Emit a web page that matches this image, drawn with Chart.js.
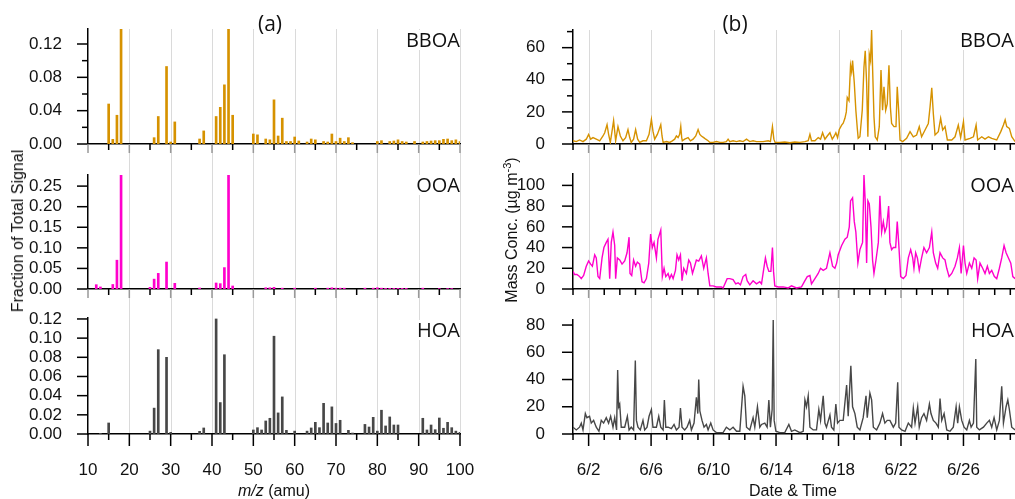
<!DOCTYPE html>
<html>
<head>
<meta charset="utf-8">
<script src="https://cdn.jsdelivr.net/npm/chart.js@4.4.1/dist/chart.umd.min.js"></script>
<style>
  body { margin: 0; background: #fff; }
  #page { position: relative; width: 1015px; height: 499px; overflow: hidden; font-family: "Liberation Sans", Arial, sans-serif; color: #111; }
  #page canvas { position: absolute; }
  .tag { position: absolute; font-family: "Open Sans", sans-serif; font-size: 20px; line-height: 20px; background: #fff; padding-left: 3px; white-space: nowrap; }
  .head { position: absolute; font-family: "Open Sans", sans-serif; font-size: 21px; line-height: 21px; transform: translateX(-50%); }
  .title { position: absolute; font-size: 16px; white-space: nowrap; transform: translate(-50%, -50%); }
  .vtitle { transform: translate(-50%, -50%) rotate(-90deg); }
</style>
</head>
<body>
<div id="page">
  <canvas id="specB" width="480" height="160" style="left:0;top:0"></canvas>
  <canvas id="specO" width="480" height="144" style="left:0;top:160px"></canvas>
  <canvas id="specH" width="480" height="195" style="left:0;top:304px"></canvas>
  <canvas id="tsB" width="535" height="160" style="left:480px;top:0"></canvas>
  <canvas id="tsO" width="535" height="144" style="left:480px;top:160px"></canvas>
  <canvas id="tsH" width="535" height="195" style="left:480px;top:304px"></canvas>

  <div class="head" style="left:270px;top:13px">(a)</div>
  <div class="head" style="left:735px;top:13px">(b)</div>

  <div class="tag" style="right:555px;top:30px">BBOA</div>
  <div class="tag" style="right:555px;top:175px">OOA</div>
  <div class="tag" style="right:555px;top:320px">HOA</div>
  <div class="tag" style="right:1px;top:30px">BBOA</div>
  <div class="tag" style="right:1px;top:175px">OOA</div>
  <div class="tag" style="right:1px;top:320px">HOA</div>

  <div class="title vtitle" style="left:18px;top:231px">Fraction of Total Signal</div>
  <div class="title vtitle" style="left:511px;top:230px">Mass Conc. (µg m<sup style="font-size:11px">-3</sup>)</div>
  <div class="title" style="left:274px;top:491px"><i>m/z</i> (amu)</div>
  <div class="title" style="left:793px;top:491px">Date &amp; Time</div>
</div>

<script>
// ---- (a) factor mass spectra: m/z and fraction of total signal ----
const bboaMz = [15,16,17,18,26,27,29,30,31,37,38,41,42,43,44,45,50,51,53,54,55,56,57,58,59,60,61,63,64,65,67,68,69,70,71,72,73,74,80,81,83,84,85,86,87,89,91,92,93,94,95,96,97,98,99,100];
const bboaFrac = [0.048,0.0056,0.0345,0.138,0.0076,0.033,0.093,0.0024,0.0265,0.006,0.0157,0.033,0.044,0.071,0.138,0.0345,0.012,0.011,0.006,0.005,0.053,0.0096,0.031,0.003,0.003,0.0084,0.0036,0.0024,0.006,0.005,0.003,0.0024,0.012,0.003,0.007,0.003,0.0076,0.0016,0.003,0.004,0.003,0.0036,0.005,0.003,0.0024,0.003,0.0024,0.003,0.0036,0.004,0.004,0.0056,0.006,0.004,0.005,0.003];

const ooaMz = [12,13,16,17,18,25,26,27,29,31,37,41,42,43,44,45,53,54,55,57,60,65,68,69,70,71,72,77,79,80,81,82,83,84,85,86,87,91,95,97,98];
const ooaFrac = [0.0105,0.005,0.011,0.070,0.278,0.004,0.024,0.038,0.0655,0.0138,0.0024,0.0146,0.013,0.052,0.278,0.0073,0.003,0.003,0.004,0.002,0.002,0.002,0.002,0.003,0.002,0.002,0.002,0.002,0.002,0.003,0.002,0.0015,0.0015,0.0015,0.0015,0.0015,0.0015,0.002,0.001,0.001,0.001];

const hoaMz = [13,15,25,26,27,29,30,37,38,41,42,43,50,51,52,53,54,55,56,57,58,60,63,64,65,66,67,68,69,70,71,73,74,77,78,79,80,81,82,83,84,85,91,92,93,94,95,96,97,98,99,100];
const hoaFrac = [0.0007,0.0115,0.003,0.027,0.088,0.080,0.0017,0.0028,0.0063,0.120,0.0328,0.0827,0.0042,0.0066,0.0042,0.0136,0.0164,0.102,0.022,0.0387,0.0038,0.003,0.003,0.0063,0.0122,0.0066,0.032,0.0115,0.0283,0.011,0.0143,0.0038,0.001,0.010,0.0073,0.0174,0.003,0.0248,0.0084,0.0178,0.0094,0.0094,0.0164,0.0042,0.0094,0.0045,0.0167,0.006,0.0122,0.0066,0.003,0.0017];

// ---- (b) factor time series: day of June and mass concentration ----
const bboaDay = [1.00,1.21,1.42,1.64,1.85,2.00,2.13,2.28,2.49,2.71,2.92,3.03,3.18,3.28,3.39,3.50,3.60,3.73,3.88,4.03,4.20,4.37,4.52,4.63,4.73,4.88,5.01,5.14,5.27,5.48,5.70,5.87,6.02,6.12,6.23,6.40,6.55,6.62,6.70,6.77,6.98,7.19,7.36,7.51,7.62,7.73,7.83,7.90,7.96,8.00,8.15,8.37,8.52,8.69,8.86,9.01,9.12,9.22,9.37,9.50,9.65,9.76,9.97,10.18,10.40,10.61,10.82,10.93,11.04,11.25,11.47,11.68,11.89,12.11,12.32,12.53,12.75,12.96,
  13.17,13.50,13.64,13.77,13.86,13.94,14.24,14.56,14.88,15.20,15.53,15.85,16.06,16.17,16.27,16.49,16.70,16.85,16.98,17.13,17.28,17.45,17.60,17.73,17.83,17.94,18.05,18.20,18.30,18.41,18.50,18.56,18.67,18.77,18.84,18.90,19.01,19.11,19.20,19.26,19.37,19.52,19.63,19.71,19.80,19.88,19.97,20.05,20.12,20.18,20.27,20.35,20.48,20.61,20.72,20.82,20.91,21.02,21.12,21.23,21.32,21.40,21.55,21.68,21.76,21.85,21.94,22.11,22.36,22.58,22.79,23.00,23.17,23.32,23.54,23.75,23.86,23.97,24.07,24.18,24.39,24.54,24.67,24.82,24.97,25.25,25.46,25.67,25.82,26.00,26.10,26.42,26.64,26.81,26.91,27.17,27.38,27.60,27.81,28.13,28.39,28.56,28.67,28.77,28.94,29.09,29.31];
const bboaConc = [2,1.5,2.5,1.5,3,6,3,4,3,2,5,7,12,6,1,8,14.5,2,10.8,5,2,4,9,4,1,3,9,3,1,2,2,6,15.3,8,3,6,10,12,5,1,1.5,1,2,3,5,4,6,11,4,2,3,4,2,3,5,9,6,5,4,3,2,1,1,1.5,1,1,1.5,3,1.5,2,1.5,2,1.5,3,1.5,2,1.5,1.5,
  1.5,2,1.5,10.8,3,1,1,1.2,0.8,1.2,1,1.5,2,6,2,2,4,3,7,3,5,7,3,5,7,4,9,11.8,13,16,20,29,27,49,45,52,38,21,10,3.5,4.5,21,48,58,38,4.5,56,52,71,48,17,4.5,2.5,10.8,46,21,35.6,21,25,49,23,12.8,10.8,10.8,35.6,21,2.5,1.5,3.5,7.7,4.5,5.6,10.8,4.5,8.7,12.8,23,35,19,5.6,7.7,16,8.7,10.8,2.5,2.5,4.5,11.8,4,13.9,2.5,3.5,4.5,11.8,2.5,4.5,3,4.5,3.5,2.5,7.7,11.8,15,10.8,9.7,4.5,1.5];

const ooaDay = [1.00,1.10,1.25,1.42,1.53,1.68,1.85,2.00,2.13,2.24,2.39,2.49,2.60,2.71,2.86,2.98,3.13,3.24,3.35,3.45,3.56,3.67,3.73,3.84,3.99,4.14,4.31,4.46,4.59,4.65,4.76,4.88,5.01,5.12,5.27,5.42,5.55,5.70,5.85,5.97,6.08,6.19,6.34,6.44,6.62,6.72,6.83,6.94,7.09,7.19,7.30,7.41,7.56,7.66,7.77,7.88,7.98,8.09,8.26,8.41,8.52,8.65,8.75,8.90,9.05,9.22,9.37,9.54,9.65,9.76,9.97,10.18,10.50,10.61,10.87,11.04,11.25,11.42,11.57,11.72,11.89,12.06,12.15,12.32,12.53,12.75,12.96,
  13.07,13.17,13.32,13.43,13.54,13.67,13.77,13.84,13.92,14.14,14.46,14.78,14.99,15.31,15.63,15.85,16.00,16.17,16.27,16.49,16.70,16.85,17.02,17.23,17.45,17.62,17.77,17.88,17.98,18.20,18.41,18.56,18.69,18.77,18.90,19.01,19.11,19.24,19.37,19.54,19.63,19.71,19.80,19.88,19.97,20.08,20.18,20.27,20.40,20.55,20.65,20.76,20.87,20.97,21.08,21.21,21.29,21.40,21.51,21.66,21.76,21.85,21.98,22.15,22.32,22.47,22.62,22.75,22.83,22.94,23.05,23.17,23.32,23.47,23.64,23.82,23.97,24.07,24.22,24.35,24.50,24.67,24.82,24.93,25.08,25.25,25.46,25.61,25.74,25.85,26.00,26.10,26.21,26.38,26.53,26.68,26.81,26.91,27.06,27.23,27.38,27.53,27.66,27.81,27.98,28.13,28.30,28.45,28.60,28.73,28.88,29.03,29.16,29.31];
const ooaConc = [17,14,14,12,10,13,22,27,24,22,33,30,12,10,30,40,45,48,10,45,55,42,10,30,28,24,27,35,50,15,13,28,22,26,24,7,6,10,25,53,40,45,30,48,57,12,20,12,15,10,14,10,18,33,28,33,8,20,15,28,25,15,20,28,27,32,20,30,15,3,3,2,2,1,10,10,9,5,6,4,12,14,8,4,8,5,7,
  5,15,30,22,17,17,40,17,3,2,2,1,3,1,2,8,12,13,5,10,15,20,18,20,35,22,20,25,33,42,48,50,60,85,88,65,55,25,38,45,110,85,25,85,82,60,28,15,28,45,90,55,65,55,60,80,45,38,40,40,65,45,12,10,13,30,38,30,20,35,30,18,30,40,35,40,55,35,25,20,35,30,28,20,12,15,22,30,40,15,42,25,15,25,20,30,28,10,25,20,15,22,15,18,12,10,20,30,42,35,30,25,12,10];

const hoaDay = [1.00,1.21,1.42,1.53,1.64,1.79,1.89,2.06,2.17,2.32,2.49,2.66,2.81,2.96,3.13,3.28,3.41,3.56,3.67,3.79,3.86,3.92,3.99,4.09,4.31,4.48,4.59,4.73,4.88,4.99,5.06,5.16,5.31,5.48,5.59,5.74,5.87,6.02,6.12,6.34,6.49,6.62,6.77,6.85,6.94,7.09,7.30,7.47,7.62,7.79,7.88,7.98,8.15,8.30,8.47,8.58,8.75,8.90,8.99,9.05,9.12,9.26,9.39,9.54,9.65,9.82,9.97,10.18,10.61,10.82,11.04,11.25,11.47,11.68,11.89,12.00,12.11,12.32,12.53,12.64,12.81,12.96,
  13.07,13.28,13.43,13.54,13.64,13.75,13.82,13.88,13.99,14.24,14.56,14.82,14.99,15.20,15.53,15.74,15.85,15.95,16.06,16.17,16.38,16.59,16.74,16.85,17.02,17.13,17.23,17.45,17.55,17.70,17.83,17.94,18.09,18.30,18.52,18.62,18.79,18.90,19.05,19.20,19.37,19.58,19.76,19.84,20.01,20.12,20.23,20.44,20.65,20.82,20.97,21.12,21.29,21.51,21.66,21.79,21.87,22.04,22.26,22.47,22.68,22.79,22.90,23.07,23.17,23.32,23.47,23.64,23.82,23.92,24.07,24.24,24.39,24.50,24.61,24.76,24.93,25.14,25.35,25.53,25.63,25.74,25.89,26.04,26.21,26.38,26.49,26.64,26.79,26.85,27.02,27.28,27.49,27.66,27.81,27.96,28.13,28.30,28.45,28.56,28.73,28.84,28.94,29.09,29.31];
const hoaConc = [5,3,5,8,3,15,12,13,8,10,5,2,10,8,12,8,13,5,12,3,47,20,22,5,5,13,3,5,3,54,10,5,3,10,3,5,13,18,5,5,13,5,3,25,5,5,4,7,3,5,19,5,3,5,10,3,8,27,15,40,17,10,5,7,3,8,3,1,1,5,3,5,2,2,35,28,5,3,12,5,20,5,
  7,8,5,25,5,18,84,10,2,1,1,7,2,3,1,2,25,20,28,5,3,3,18,10,28,8,5,14,5,3,22,8,10,10,36,13,50,20,15,5,3,12,28,12,30,25,5,3,8,15,8,10,10,5,8,38,5,3,2,8,5,19,8,20,5,12,15,10,22,15,10,8,5,26,10,15,3,2,5,20,8,20,10,5,3,10,5,8,55,5,3,5,8,10,5,12,3,10,35,8,20,25,18,5,3];

// ---- tick values ----
const mzMajor = [10,20,30,40,50,60,70,80,90,100];
const mzMinor = [15,25,35,45,55,65,75,85,95];
const mzGrid = [20,30,40,50,60,70,80,90,100];
const dateMajor = [2,6,10,14,18,22,26];
const dateMinor = [1,3,4,5,7,8,9,11,12,13,15,16,17,19,20,21,23,24,25,27,28,29];

const bbSpecTicks = [0, 0.04, 0.08, 0.12];
const bbSpecMinor = [0.02, 0.06, 0.10];
const ooSpecTicks = [0, 0.05, 0.10, 0.15, 0.20, 0.25];
const hoSpecTicks = [0, 0.02, 0.04, 0.06, 0.08, 0.10, 0.12];
const bbConcTicks = [0, 20, 40, 60];
const bbConcMinor = [10, 30, 50, 70];
const ooConcTicks = [0, 20, 40, 60, 80, 100];
const hoConcTicks = [0, 20, 40, 60, 80];

const COLORS = { bboa: '#D69200', ooa: '#FF00CC', hoa: '#474747' };
const FONT = { family: '"Liberation Sans", Arial, sans-serif', size: 17 };

// gridlines behind everything and custom major/minor tick marks
const axisMarks = {
  id: 'axisMarks',
  beforeDraw(chart, args, o) {
    const { ctx, chartArea: a } = chart;
    const xs = chart.scales.x;
    const y0 = o.gridUp ? 0 : a.top;
    const y1 = o.gridDown ? chart.height : a.bottom;
    ctx.save();
    ctx.strokeStyle = '#dadada';
    ctx.lineWidth = 1;
    o.grid.forEach(v => {
      const px = Math.round(xs.getPixelForValue(v)) + 0.5;
      ctx.beginPath(); ctx.moveTo(px, y0); ctx.lineTo(px, y1); ctx.stroke();
    });
    ctx.restore();
  },
  afterDraw(chart, args, o) {
    const { ctx, chartArea: a } = chart;
    const xs = chart.scales.x, ys = chart.scales.y;
    const seg = (x0, y0, x1, y1, c) => {
      ctx.strokeStyle = c;
      ctx.beginPath(); ctx.moveTo(x0, y0); ctx.lineTo(x1, y1); ctx.stroke();
    };
    ctx.save();
    ctx.lineWidth = 1.5;
    o.yMajor.forEach(v => { const p = ys.getPixelForValue(v); seg(a.left - 11, p, a.left, p, '#000'); });
    o.yMinor.forEach(v => { const p = ys.getPixelForValue(v); seg(a.left - 6, p, a.left, p, '#000'); });
    o.xMajor.forEach(v => { const p = xs.getPixelForValue(v); seg(p, a.bottom, p, a.bottom + o.majorLen, o.majorColor); });
    o.xMinor.forEach(v => { const p = xs.getPixelForValue(v); seg(p, a.bottom, p, a.bottom + 6, '#000'); });
    ctx.restore();
  }
};

function makePanel(id, p) {
  const bottom = p.labels;
  new Chart(document.getElementById(id), {
    type: p.type,
    data: { datasets: [p.dataset] },
    options: {
      responsive: false,
      animation: false,
      events: [],
      layout: { padding: { top: p.top, right: p.right, left: 0, bottom: 0 }, autoPadding: false },
      plugins: {
        legend: { display: false },
        tooltip: { enabled: false },
        axisMarks: {
          grid: p.grid, gridUp: p.gridUp, gridDown: p.gridDown,
          xMajor: p.xMajor, xMinor: p.xMinor, yMajor: p.yTicks, yMinor: p.yMinor || [],
          majorLen: bottom ? 12 : 9, majorColor: bottom ? '#000' : '#999'
        }
      },
      scales: {
        x: {
          type: 'linear', min: p.xMin, max: p.xMax, offset: false,
          grid: { display: false, offset: false },
          border: { color: '#000', width: 1.5 },
          afterBuildTicks: s => { s.ticks = p.xMajor.map(v => ({ value: v })); },
          // fixed box size, and no extra room for the end labels
          afterFit: s => { s.height = p.xHeight; s.paddingLeft = 0; s.paddingRight = 0; },
          ticks: {
            display: bottom, autoSkip: false, maxRotation: 0, padding: 18,
            color: '#111', font: FONT, callback: p.xFormat
          }
        },
        y: {
          min: 0, max: p.yMax,
          grid: { display: false },
          border: { color: '#000', width: 1.5 },
          afterBuildTicks: s => { s.ticks = p.yTicks.map(v => ({ value: v })); },
          afterFit: s => { s.width = p.yWidth; s.paddingTop = 0; s.paddingBottom = 0; },
          ticks: { autoSkip: false, padding: p.yPad, color: '#111', font: FONT, callback: p.yFormat }
        }
      }
    },
    plugins: [axisMarks]
  });
}

function spectrum(id, mz, frac, color, extra) {
  makePanel(id, Object.assign({
    type: 'bar',
    dataset: { data: mz.map((m, i) => ({ x: m, y: frac[i] })), backgroundColor: color, barThickness: 2, borderWidth: 0 },
    xMin: 10, xMax: 100, xMajor: mzMajor, xMinor: mzMinor, grid: mzGrid,
    xFormat: v => String(v), yFormat: v => v.toFixed(2),
    yWidth: 88, yPad: 18, right: 20
  }, extra));
}

function series(id, day, conc, color, extra) {
  makePanel(id, Object.assign({
    type: 'line',
    dataset: { data: day.map((d, i) => ({ x: d, y: conc[i] })), borderColor: color, borderWidth: 1.4, pointRadius: 0, tension: 0 },
    xMin: 1, xMax: 29.3, xMajor: dateMajor, xMinor: dateMinor, grid: dateMajor,
    xFormat: v => '6/' + v, yFormat: v => String(v),
    yWidth: 93, yPad: 20, right: 0
  }, extra));
}

spectrum('specB', bboaMz, bboaFrac, COLORS.bboa, { top: 29, xHeight: 16, yMax: 0.138, yTicks: bbSpecTicks, yMinor: bbSpecMinor, gridUp: false, gridDown: true, labels: false });
spectrum('specO', ooaMz, ooaFrac, COLORS.ooa, { top: 15, xHeight: 15, yMax: 0.277, yTicks: ooSpecTicks, gridUp: true, gridDown: true, labels: false });
spectrum('specH', hoaMz, hoaFrac, COLORS.hoa, { top: 14, xHeight: 65, yMax: 0.121, yTicks: hoSpecTicks, gridUp: true, gridDown: false, labels: true });

series('tsB', bboaDay, bboaConc, COLORS.bboa, { top: 30, xHeight: 16, yMax: 71, yTicks: bbConcTicks, yMinor: bbConcMinor, gridUp: false, gridDown: true, labels: false });
series('tsO', ooaDay, ooaConc, COLORS.ooa, { top: 14, xHeight: 15, yMax: 111, yTicks: ooConcTicks, gridUp: true, gridDown: true, labels: false });
series('tsH', hoaDay, hoaConc, COLORS.hoa, { top: 16, xHeight: 65, yMax: 83.7, yTicks: hoConcTicks, gridUp: true, gridDown: false, labels: true });
</script>
</body>
</html>
